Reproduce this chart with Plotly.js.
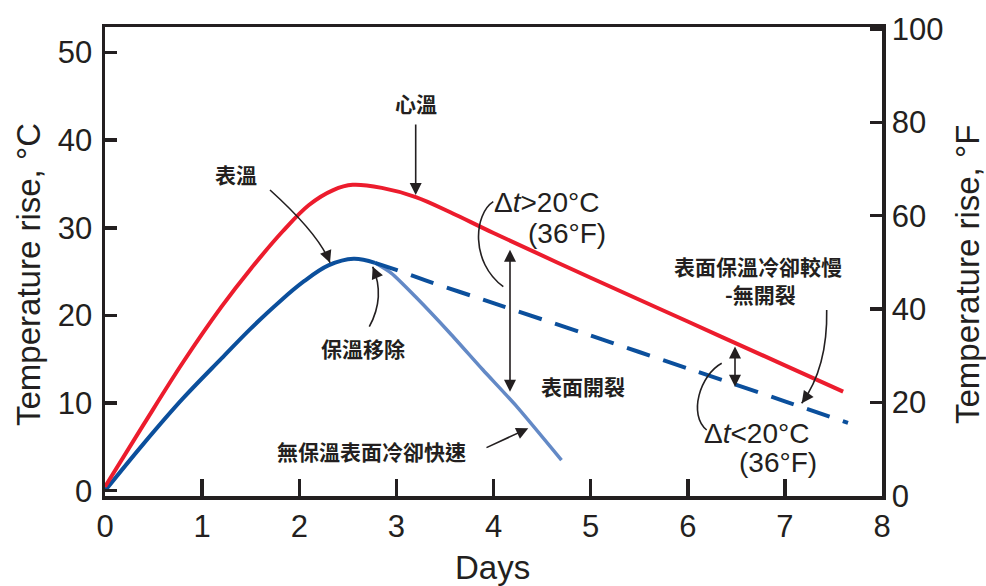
<!DOCTYPE html>
<html>
<head>
<meta charset="utf-8">
<script src="https://cdn.plot.ly/plotly-3.0.1.min.js"></script>
<style>html,body{margin:0;padding:0;background:#fff;}#chart{width:986px;height:586px;}</style>
</head>
<body>
<div id="chart"></div>
<script>
// ---- data ----
const days_core = [0, 0.4, 0.8, 1.2, 1.5, 1.83, 2.1, 2.35, 2.55, 2.85, 3.2, 3.55, 4.0, 5.0, 6.0, 7.0, 7.6];
const temp_core = [0.45, 7.6, 14.6, 21.0, 25.3, 29.6, 32.6, 34.3, 34.9, 34.55, 33.5, 31.8, 29.4, 24.3, 19.3, 14.3, 11.3];

const days_surface = [0, 0.4, 0.8, 1.2, 1.5, 1.8, 2.05, 2.3, 2.56, 2.78];
const temp_surface = [0, 5.4, 10.5, 15.1, 18.5, 21.6, 23.9, 25.7, 26.45, 26.0];

const days_insulated = [2.78, 3.0, 3.3, 4.0, 5.0, 6.0, 7.0, 7.65];
const temp_insulated = [26.0, 25.2, 24.0, 21.4, 17.7, 13.95, 10.2, 7.75];

const days_exposed = [2.78, 2.95, 3.2, 3.55, 3.89, 4.24, 4.7];
const temp_exposed = [26.0, 24.8, 22.1, 18.0, 13.8, 9.6, 3.5];

const x_ticks = [0, 1, 2, 3, 4, 5, 6, 7, 8];
const c_ticks = [0, 10, 20, 30, 40, 50];
const f_ticks = [0, 20, 40, 60, 80, 100];

// ---- styling / layout helpers ----
const INK = '#231f20';
const SANS = '"Liberation Sans", Arial, Helvetica, sans-serif';
const CJK = '"Noto Sans CJK TC", "Noto Sans CJK SC", sans-serif';
const XR = [0, 8], YR = [-0.6, 52.9];
const L = 105, R = 882, T = 27, B = 496;
const PX = px => XR[0] + (px - L) / (R - L) * (XR[1] - XR[0]);
const PY = py => YR[1] - (py - T) / (B - T) * (YR[1] - YR[0]);
const paperX = px => (px - L) / (R - L);
const paperY = py => (B - py) / (B - T);

const traces = [
  {x: days_exposed, y: temp_exposed, mode: 'lines', line: {color: '#6389c6', width: 3.5, shape: 'spline', smoothing: 0.6}, hoverinfo: 'skip'},
  {x: days_insulated, y: temp_insulated, mode: 'lines', line: {color: '#0b4f9c', width: 4, dash: '24px,14px', shape: 'spline', smoothing: 0.6}, hoverinfo: 'skip'},
  {x: days_surface, y: temp_surface, mode: 'lines', line: {color: '#0b4f9c', width: 4, shape: 'spline', smoothing: 1}, hoverinfo: 'skip'},
  {x: days_core, y: temp_core, mode: 'lines', line: {color: '#ec1c2d', width: 4, shape: 'spline', smoothing: 1}, hoverinfo: 'skip'},
  {x: [null], y: [null], yaxis: 'y2', mode: 'lines', hoverinfo: 'skip'}
];

function label(px, py, text, size, family, extra) {
  return Object.assign({x: PX(px), y: PY(py), xref: 'x', yref: 'y', text: text, showarrow: false,
    xanchor: 'center', yanchor: 'middle', font: {family: family, size: size, color: INK}}, extra || {});
}
function cjk(px, py, text) {
  return label(px, py, text, 21, CJK, {font: {family: CJK, size: 21, color: INK, weight: 'bold'}});
}
function arrow(tipx, tipy, tailx, taily, both) {
  const a = {x: PX(tipx), y: PY(tipy), ax: PX(tailx), ay: PY(taily), xref: 'x', yref: 'y', axref: 'x', ayref: 'y',
    text: '', showarrow: true, arrowhead: 2, arrowsize: 1.5, arrowwidth: 1.6, arrowcolor: INK, standoff: 0};
  if (both) { a.arrowside = 'end+start'; a.startarrowhead = 2; a.startarrowsize = 1.5; a.startstandoff = 0; }
  return a;
}
function pathQ(p0, c, p2) {
  return `M${PX(p0[0])},${PY(p0[1])} Q${PX(c[0])},${PY(c[1])} ${PX(p2[0])},${PY(p2[1])}`;
}
function pathC(p0, c1, c2, p2) {
  return `M${PX(p0[0])},${PY(p0[1])} C${PX(c1[0])},${PY(c1[1])} ${PX(c2[0])},${PY(c2[1])} ${PX(p2[0])},${PY(p2[1])}`;
}
const curve = d => ({type: 'path', xref: 'x', yref: 'y', path: d, line: {color: INK, width: 1.6}});

const annotations = [
  cjk(416, 103, '心溫'),
  arrow(415.7, 195, 415.7, 123),
  cjk(236, 174, '表溫'),
  arrow(330, 262.7, 325.3, 250.6),
  cjk(363, 348, '保溫移除'),
  arrow(372.7, 266.7, 377.8, 278.6),
  label(546.7, 202, 'Δ<i>t</i>&gt;20°C', 28, SANS),
  label(566.7, 233.5, '(36°F)', 28, SANS),
  arrow(510, 391.7, 510, 248.3, true),
  cjk(583, 386, '表面開裂'),
  cjk(371, 451, '無保溫表面冷卻快速'),
  arrow(528.3, 428.3, 485, 448.3),
  cjk(758, 266, '表面保溫冷卻較慢'),
  cjk(760, 294, '-無開裂'),
  arrow(801.7, 403.3, 809.3, 392.8),
  arrow(735, 386.7, 735, 345, true),
  label(756.7, 433.5, 'Δ<i>t</i>&lt;20°C', 28, SANS),
  label(778.3, 462, '(36°F)', 28, SANS),
  // axis titles
  {xref: 'paper', yref: 'paper', x: paperX(28), y: paperY(275), text: 'Temperature rise, °C', textangle: -90,
   showarrow: false, xanchor: 'center', yanchor: 'middle', font: {family: SANS, size: 33, color: INK}},
  {xref: 'paper', yref: 'paper', x: paperX(967), y: paperY(275), text: 'Temperature rise, °F', textangle: -90,
   showarrow: false, xanchor: 'center', yanchor: 'middle', font: {family: SANS, size: 33, color: INK}},
  {xref: 'paper', yref: 'paper', x: paperX(492), y: paperY(567), text: 'Days',
   showarrow: false, xanchor: 'center', yanchor: 'middle', font: {family: SANS, size: 33, color: INK}}
];

const shapes = [
  curve(pathQ([270, 190], [318.8, 234], [330, 262.7])),
  curve(pathQ([369.3, 326.7], [385.6, 296.7], [372.7, 266.7])),
  curve(pathQ([826.7, 310], [827.8, 367.35], [801.7, 403.3])),
  curve(pathC([493.3, 201.7], [474, 214], [470, 262], [503.3, 286.7])),
  curve(pathC([721.7, 363.3], [700, 375], [688, 415], [706.7, 430]))
];

const axisCommon = {
  showline: true, linecolor: INK, linewidth: 3.5, showgrid: false, zeroline: false,
  ticks: 'inside', tickcolor: INK, tickwidth: 3.5,
  tickfont: {family: SANS, size: 31, color: INK}, fixedrange: true
};

const layout = {
  width: 986, height: 586,
  margin: {l: L, r: 986 - R, t: T, b: 586 - B, pad: 0},
  paper_bgcolor: '#fff', plot_bgcolor: '#fff',
  showlegend: false,
  xaxis: Object.assign({}, axisCommon, {range: XR, tickvals: x_ticks, ticklen: 17, mirror: true, ticklabelstandoff: 0}),
  yaxis: Object.assign({}, axisCommon, {range: YR, tickvals: c_ticks, ticklen: 12, ticklabelstandoff: 3}),
  yaxis2: Object.assign({}, axisCommon, {range: [0, 100.4], tickvals: f_ticks, ticklen: 12, overlaying: 'y', side: 'right', anchor: 'x', ticklabelstandoff: 0}),
  annotations: annotations,
  shapes: shapes
};

Plotly.newPlot('chart', traces, layout, {staticPlot: true, displayModeBar: false});
</script>
</body>
</html>
